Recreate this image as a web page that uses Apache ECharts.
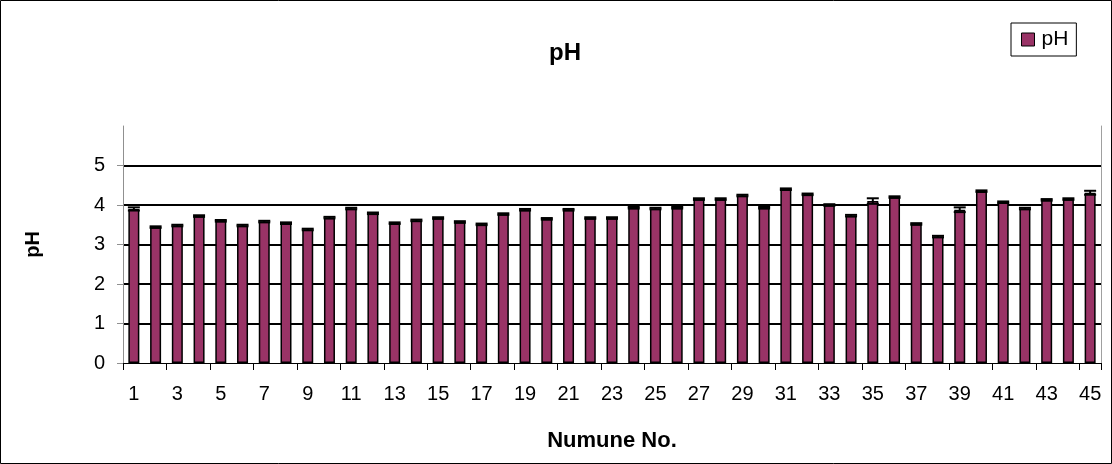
<!DOCTYPE html>
<html>
<head>
<meta charset="utf-8">
<script src="https://cdn.jsdelivr.net/npm/echarts@6/dist/echarts.min.js"></script>
<style>
html,body{margin:0;padding:0;background:#fff;}
#c{width:1112px;height:464px;}
</style>
</head>
<body>
<div id="c"></div>
<script>
var categories = ['1','2','3','4','5','6','7','8','9','10','11','12','13','14','15','16','17','18','19','20','21','22','23','24','25','26','27','28','29','30','31','32','33','34','35','36','37','38','39','40','41','42','43','44','45'];
var phValues = [3.90,3.44,3.48,3.72,3.60,3.48,3.58,3.54,3.38,3.68,3.91,3.79,3.54,3.61,3.67,3.57,3.51,3.77,3.88,3.65,3.88,3.67,3.67,3.93,3.91,3.93,4.15,4.15,4.24,3.93,4.40,4.27,4.00,3.73,4.10,4.20,3.52,3.20,3.88,4.35,4.07,3.91,4.13,4.15,4.31];
var phErrors = [0.04,0.02,0.02,0.02,0.02,0.02,0.02,0.02,0.02,0.02,0.02,0.02,0.02,0.02,0.02,0.02,0.02,0.02,0.02,0.02,0.02,0.02,0.02,0.02,0.02,0.02,0.02,0.02,0.02,0.02,0.02,0.02,0.02,0.02,0.07,0.02,0.02,0.02,0.06,0.02,0.02,0.02,0.02,0.02,0.05];
var yTicks = [0,1,2,3,4,5];

var chart = echarts.init(document.getElementById('c'));
var FONT = '"Liberation Sans", Arial, sans-serif';
var errData = phValues.map(function(v,i){ return [i, v, phErrors[i]]; });

chart.setOption({
  animation: false,
  backgroundColor: '#fff',
  textStyle: { fontFamily: FONT },
  title: {
    text: 'pH', left: 560, top: 36, textAlign: 'center',
    textStyle: { fontFamily: FONT, fontSize: 24, fontWeight: 'bold', color: '#000' }
  },
  legend: {
    data: ['pH'], left: 1011, top: 23, orient: 'vertical',
    borderColor: '#000', borderWidth: 1, padding: [6, 8, 6, 10],
    itemWidth: 13, itemHeight: 13, itemGap: 0,
    textStyle: { fontFamily: FONT, fontSize: 21, color: '#000', padding: [0,0,0,2] },
    icon: 'rect',
    itemStyle: { borderColor: '#000', borderWidth: 1 }
  },
  grid: { left: 123, right: 11, top: 126, bottom: 101, containLabel: false },
  xAxis: {
    type: 'category', data: categories,
    name: 'Numune No.', nameLocation: 'middle', nameGap: 67,
    nameTextStyle: { fontFamily: FONT, fontSize: 22, fontWeight: 'bold', color: '#000' },
    axisLine: { lineStyle: { color: '#000', width: 1 } },
    axisTick: { show: true, length: 7, lineStyle: { color: '#000' } },
    axisLabel: { interval: 1, margin: 21, fontFamily: FONT, fontSize: 20, color: '#000' },
    splitLine: { show: false }
  },
  yAxis: [{
    type: 'value', min: 0, max: 6, interval: 1,
    name: 'pH', nameLocation: 'middle', nameGap: 80, nameRotate: 90,
    nameTextStyle: { fontFamily: FONT, fontSize: 20, fontWeight: 'bold', color: '#000' },
    axisLine: { show: true, lineStyle: { color: '#909090', width: 1 } },
    axisTick: { show: true, length: 6, customValues: yTicks, lineStyle: { color: '#909090' } },
    axisLabel: { customValues: yTicks, margin: 18, fontFamily: FONT, fontSize: 20, color: '#000' },
    splitLine: { show: true, showMinLine: false, showMaxLine: true, lineStyle: { color: '#000', width: 2 } }
  }, {
    type: 'value', min: 0, max: 6, interval: 1, position: 'right',
    axisLine: { show: true, lineStyle: { color: '#a0a0a0', width: 1 } },
    axisTick: { show: false }, axisLabel: { show: false }, splitLine: { show: false }
  }],
  series: [{
    name: 'pH', type: 'bar', data: phValues, barWidth: 11,
    itemStyle: { color: '#993366', borderColor: '#000', borderWidth: 1.5 },
    z: 2
  }, {
    type: 'custom', data: errData, z: 3,
    renderItem: function(params, api) {
      var x = api.value(0), v = api.value(1), e = api.value(2);
      var top = api.coord([x, v + e]);
      var bot = api.coord([x, v - e]);
      var hw = 6;
      var st = { stroke: '#000', lineWidth: 2 };
      return { type: 'group', children: [
        { type: 'line', shape: { x1: top[0], y1: top[1], x2: bot[0], y2: bot[1] }, style: st },
        { type: 'line', shape: { x1: top[0]-hw, y1: top[1], x2: top[0]+hw, y2: top[1] }, style: st },
        { type: 'line', shape: { x1: bot[0]-hw, y1: bot[1], x2: bot[0]+hw, y2: bot[1] }, style: st }
      ]};
    }
  }],
  graphic: [{
    type: 'rect', shape: { x: 0.5, y: 0.5, width: 1111, height: 463 },
    style: { fill: 'none', stroke: '#000', lineWidth: 1 }, silent: true
  }]
});
</script>
</body>
</html>
